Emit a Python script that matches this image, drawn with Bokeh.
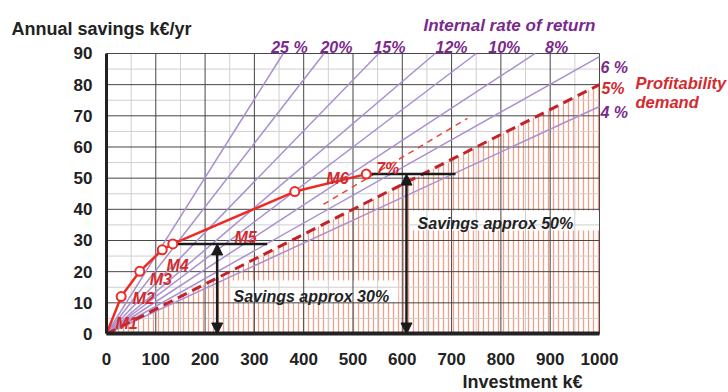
from bokeh.plotting import figure
from bokeh.models import Range1d, SingleIntervalTicker, Label, Arrow, NormalHead, ColumnDataSource
from bokeh.embed import file_html
from bokeh.resources import INLINE

# ---- data ----
x_tick_values = list(range(0, 1001, 100))
x_minor_values = list(range(50, 1000, 100))
y_tick_values = list(range(0, 91, 10))
y_minor_values = list(range(5, 90, 10))

irr_labels = ["25 %", "20%", "15%", "12%", "10%", "8%", "6 %", "4 %"]
irr_slopes = [0.251, 0.204, 0.163, 0.135, 0.120, 0.1035, 0.089, 0.073]

demand_label = "5%"
demand_slope = 0.080

seven_label = "7%"
seven_slope = 0.0945
seven_invest = [440, 732]

measure_names = ["M1", "M2", "M3", "M4", "M5", "M6"]
path_invest = [0, 29.8, 67.5, 113, 134.5, 382, 527]
path_savings = [0, 12.0, 20.1, 27.0, 28.9, 45.7, 51.3]

level_savings = [28.9, 51.3]
level_invest_from = [136, 535]
level_invest_to = [326, 708]
arrow_invest = [224.5, 608.5]
savings_texts = ["Savings approx 30%", "Savings approx 50%"]

X_MAX = 1000
Y_MAX = 90

# ---- colours / fonts ----
FONT = "Liberation Sans"
PURPLE_LINE = "#aa8fcf"
PURPLE_TEXT = "#7a2a8c"
RED = "#ee2a24"
DARK_RED = "#c4222b"
RED_TEXT = "#d42a2e"
DARK = "#222222"

# the frame covers the whole canvas; the chart area is [0,1000] x [0,90]
p = figure(width=728, height=392, output_backend="svg", toolbar_location=None,
           x_range=Range1d(-215.0, 1261.7), y_range=Range1d(-18.77, 107.0),
           min_border=0)
p.title.visible = False
p.outline_line_color = None
p.background_fill_color = "white"
p.border_fill_color = "white"
p.xgrid.visible = False
p.ygrid.visible = False

p.xaxis.ticker = SingleIntervalTicker(interval=100, num_minor_ticks=2)
p.yaxis.ticker = SingleIntervalTicker(interval=10, num_minor_ticks=2)
p.xaxis.fixed_location = 0
p.yaxis.fixed_location = 0
p.xaxis.bounds = (0, X_MAX)
p.yaxis.bounds = (0, Y_MAX)
for ax in (p.xaxis, p.yaxis):
    ax.major_tick_line_color = None
    ax.minor_tick_line_color = None
    ax.axis_line_color = DARK
    ax.major_label_text_font = FONT
    ax.major_label_text_font_style = "bold"
    ax.major_label_text_font_size = "17px"
    ax.major_label_text_color = DARK
p.yaxis.axis_line_width = 3
p.xaxis.axis_line_width = 4
p.yaxis.major_label_standoff = 8
p.xaxis.major_label_standoff = 13

# hatched area below profitability demand
p.patch([0, X_MAX, X_MAX], [0, 0, demand_slope * X_MAX], fill_alpha=0, line_alpha=0,
        hatch_pattern="|", hatch_color="#f0a08a", hatch_scale=5, hatch_weight=1.3)
# white boxes behind the savings texts
p.quad(left=[251.5, 617], right=[592, X_MAX], bottom=[10.1, 33.2], top=[17.2, 39.6],
       fill_color="white", line_color=None)

# grid
p.segment(x_minor_values, [0] * len(x_minor_values), x_minor_values, [Y_MAX] * len(x_minor_values),
          line_color="#cfcfcf", line_width=1)
p.segment([0] * len(y_minor_values), y_minor_values, [X_MAX] * len(y_minor_values), y_minor_values,
          line_color="#cfcfcf", line_width=1)
p.segment(x_tick_values[1:], [0] * 10, x_tick_values[1:], [Y_MAX] * 10,
          line_color="#454545", line_width=1)
p.segment([0] * 9, y_tick_values[1:], [X_MAX] * 9, y_tick_values[1:],
          line_color="#454545", line_width=1)

# IRR lines
xe = [min(X_MAX, Y_MAX / s) for s in irr_slopes]
irr_src = ColumnDataSource(dict(x0=[0] * len(irr_slopes), y0=[0] * len(irr_slopes),
                                x1=xe, y1=[s * x for s, x in zip(irr_slopes, xe)]))
p.segment("x0", "y0", "x1", "y1", source=irr_src, line_color=PURPLE_LINE, line_width=1.5)

# 7% thin dashed
p.line(seven_invest, [seven_slope * x for x in seven_invest], line_color="#f0443a",
       line_width=1.5, line_dash="6 5")
# 5% profitability demand
p.line([0, X_MAX], [0, demand_slope * X_MAX], line_color=DARK_RED, line_width=3, line_dash="10 6")

# horizontal levels
p.segment(level_invest_from, level_savings, level_invest_to, level_savings,
          line_color="#1a1a1a", line_width=2.5)

# measures path
p.line(path_invest, path_savings, line_color=RED, line_width=2.5)
p.scatter(path_invest[1:], path_savings[1:], marker="circle", size=9,
          line_color=RED, line_width=2, fill_color="white")

# arrows
arr_src = ColumnDataSource(dict(x=arrow_invest, ys=level_savings, ye=[0, 0]))
p.add_layout(Arrow(x_start="x", y_start="ys", x_end="x", y_end="ye", source=arr_src,
                   line_color="#1a1a1a", line_width=2.5,
                   start=NormalHead(size=11, fill_color="#1a1a1a", line_color="#1a1a1a"),
                   end=NormalHead(size=11, fill_color="#1a1a1a", line_color="#1a1a1a")))


def lab(text, x, y, color, size, style="bold", align="left"):
    p.add_layout(Label(x=x, y=y, text=text, text_color=color, text_font=FONT,
                       text_font_size=size, text_font_style=style, text_align=align,
                       text_baseline="alphabetic"))


lab("Annual savings k€/yr", -192.7, 97.9, DARK, "18px")
lab("Investment k€", 722, -15.4, DARK, "18px")
lab("Internal rate of return", 643, 99.0, PURPLE_TEXT, "17px", "bold italic")

top_x = [371, 466.5, 574, 700, 807, 913]
for t, x in zip(irr_labels[:6], top_x):
    lab(t, x, 91.9, PURPLE_TEXT, "16px", "bold italic", "center")
lab(irr_labels[6], 1002, 85.5, PURPLE_TEXT, "16px", "bold italic")
lab(irr_labels[7], 1002, 71.1, PURPLE_TEXT, "16px", "bold italic")
lab(demand_label, 1004, 78.8, RED_TEXT, "16px", "bold italic")
lab("Profitability", 1073, 80.4, RED_TEXT, "16.5px", "bold italic")
lab("demand", 1073, 74.3, RED_TEXT, "16.5px", "bold italic")
lab(seven_label, 547, 53.1, RED_TEXT, "16px", "bold italic")

m_pos = [(18.3, 3.4), (52.7, 11.4), (87.8, 17.5), (121.7, 22.0), (259.6, 31.0), (446, 50.0)]
for name, (x, y) in zip(measure_names, m_pos):
    lab(name, x, y, RED_TEXT, "16px", "bold italic")

lab(savings_texts[0], 257.6, 12.0, DARK, "16px", "bold italic")
lab(savings_texts[1], 631, 35.5, DARK, "16px", "bold italic")

open("out.html", "w").write(file_html(p, INLINE))
